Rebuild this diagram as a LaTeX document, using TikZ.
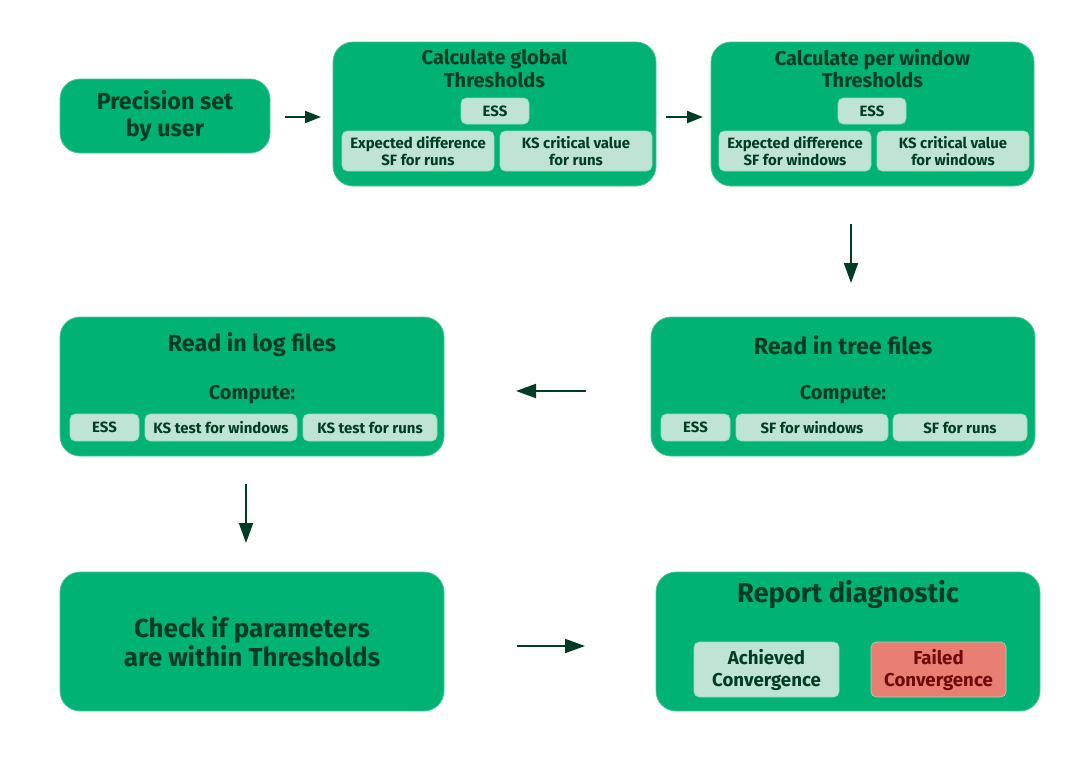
\documentclass[tikz,border=0pt]{standalone}
\usepackage{fontspec}
\setmainfont{Fira Sans}
\usetikzlibrary{positioning,arrows.meta}

\definecolor{boxgreen}{HTML}{00B274}
\definecolor{edgegreen}{HTML}{4CC495}
\definecolor{palegreen}{HTML}{C0E4D4}
\definecolor{inkgreen}{HTML}{003D24}
\definecolor{failred}{HTML}{E97F72}
\definecolor{inkred}{HTML}{6E0A0A}

\tikzset{
  bigbox/.style = {draw=edgegreen, line width=0.6pt, fill=boxgreen,
    rounded corners=15pt, inner sep=0pt},
  smallbox/.style = {draw=edgegreen!60, line width=0.5pt, fill=palegreen,
    rounded corners=4pt, inner sep=0pt, align=center,
    text=inkgreen, font=\bfseries\fontsize{11.2}{12.8}\selectfont},
  title/.style = {align=center, text=inkgreen, inner sep=0pt},
  flow/.style = {draw=inkgreen, line width=1.5pt,
    -{Triangle[length=15pt, width=10.5pt]}},
}

\begin{document}
\begin{tikzpicture}[x=0.75pt, y=-0.75pt]
  \useasboundingbox (0,0) rectangle (1087,769);

  % first row
  \node[bigbox, minimum width=157.5pt, minimum height=55.5pt] (prec) at (165,116) {};
  \node[title, font=\bfseries\fontsize{17.5}{20}\selectfont] (prectxt) at (prec) {Precision set\\by user};

  \node[bigbox, minimum width=242.25pt, minimum height=108pt] (glob) at (494.5,114) {};
  \node[title, font=\bfseries\fontsize{15}{17}\selectfont] (globtxt) at (494.5,68.5) {Calculate global\\Thresholds};
  \node[smallbox, minimum width=51pt, minimum height=19.5pt] (gess) at (495,111) {ESS};
  \node[smallbox, minimum width=114pt, minimum height=30pt] (gexp) at (418,151) {Expected difference\\SF for runs};
  \node[smallbox, minimum width=114pt, minimum height=30pt] (gks) at (576,151) {KS critical value\\for runs};

  \node[bigbox, minimum width=242.25pt, minimum height=108pt] (win) at (872.5,114) {};
  \node[title, font=\bfseries\fontsize{15}{17}\selectfont] (wintxt) at (872.5,68.5) {Calculate per window\\Thresholds};
  \node[smallbox, minimum width=51pt, minimum height=19.5pt] (wess) at (872,111) {ESS};
  \node[smallbox, minimum width=114pt, minimum height=30pt] (wexp) at (795,151) {Expected difference\\SF for windows};
  \node[smallbox, minimum width=114pt, minimum height=30pt] (wks) at (953,151) {KS critical value\\for windows};

  % second row
  \node[bigbox, minimum width=288pt, minimum height=104.25pt] (tree) at (843,386.5) {};
  \node[title, font=\bfseries\fontsize{17.5}{19}\selectfont] (treetxt) at (843,345) {Read in tree files};
  \node[title, font=\bfseries\fontsize{15}{17}\selectfont] (treecmp) at (843,395) {Compute:};
  \node[smallbox, minimum width=51.75pt, minimum height=20.25pt] (tess) at (695.5,427.5) {ESS};
  \node[smallbox, minimum width=114pt, minimum height=20.25pt] (tsfw) at (812,427.5) {SF for windows};
  \node[smallbox, minimum width=100.5pt, minimum height=20.25pt] (tsfr) at (960,427.5) {SF for runs};

  \node[bigbox, minimum width=288pt, minimum height=104.25pt] (log) at (252,386.5) {};
  \node[title, font=\bfseries\fontsize{17.5}{19}\selectfont] (logtxt) at (252,345) {Read in log files};
  \node[title, font=\bfseries\fontsize{15}{17}\selectfont] (logcmp) at (252,395) {Compute:};
  \node[smallbox, minimum width=51.75pt, minimum height=20.25pt] (less) at (104.5,427.5) {ESS};
  \node[smallbox, minimum width=114pt, minimum height=20.25pt] (lksw) at (221,427.5) {KS test for windows};
  \node[smallbox, minimum width=100.5pt, minimum height=20.25pt] (lksr) at (370,427.5) {KS test for runs};

  % third row
  \node[bigbox, minimum width=288pt, minimum height=104.25pt] (check) at (252,641.5) {};
  \node[title, font=\bfseries\fontsize{19.5}{21.5}\selectfont] (checktxt) at (check) {Check if parameters\\are within Thresholds};

  \node[bigbox, minimum width=288pt, minimum height=104.25pt] (report) at (848,641.5) {};
  \node[title, font=\bfseries\fontsize{20.5}{22}\selectfont] (reporttxt) at (848,594) {Report diagnostic};
  \node[smallbox, minimum width=108.75pt, minimum height=41.25pt,
    font=\bfseries\fontsize{14}{16.5}\selectfont] (ok) at (766.5,669.5) {Achieved\\Convergence};
  \node[smallbox, fill=failred, text=inkred, minimum width=101.25pt, minimum height=41.25pt,
    font=\bfseries\fontsize{14}{16.5}\selectfont] (fail) at (938.5,669.5) {Failed\\Convergence};

  % arrows
  \coordinate (a1) at (285,117);  \coordinate (a2) at (321,117);
  \coordinate (b1) at (666,117);  \coordinate (b2) at (703,117);
  \coordinate (c1) at (851,224);  \coordinate (c2) at (851,283);
  \coordinate (d1) at (586,391);  \coordinate (d2) at (516,391);
  \coordinate (e1) at (246,484);  \coordinate (e2) at (246,543);
  \coordinate (f1) at (517,646);  \coordinate (f2) at (585,646);

  \draw[flow, -{Triangle[length=12pt, width=9pt]}] (a1) -- (a2);
  \draw[flow, -{Triangle[length=12pt, width=9pt]}] (b1) -- (b2);
  \draw[flow] (c1) -- (c2);
  \draw[flow] (d1) -- (d2);
  \draw[flow] (e1) -- (e2);
  \draw[flow] (f1) -- (f2);
\end{tikzpicture}
\end{document}
